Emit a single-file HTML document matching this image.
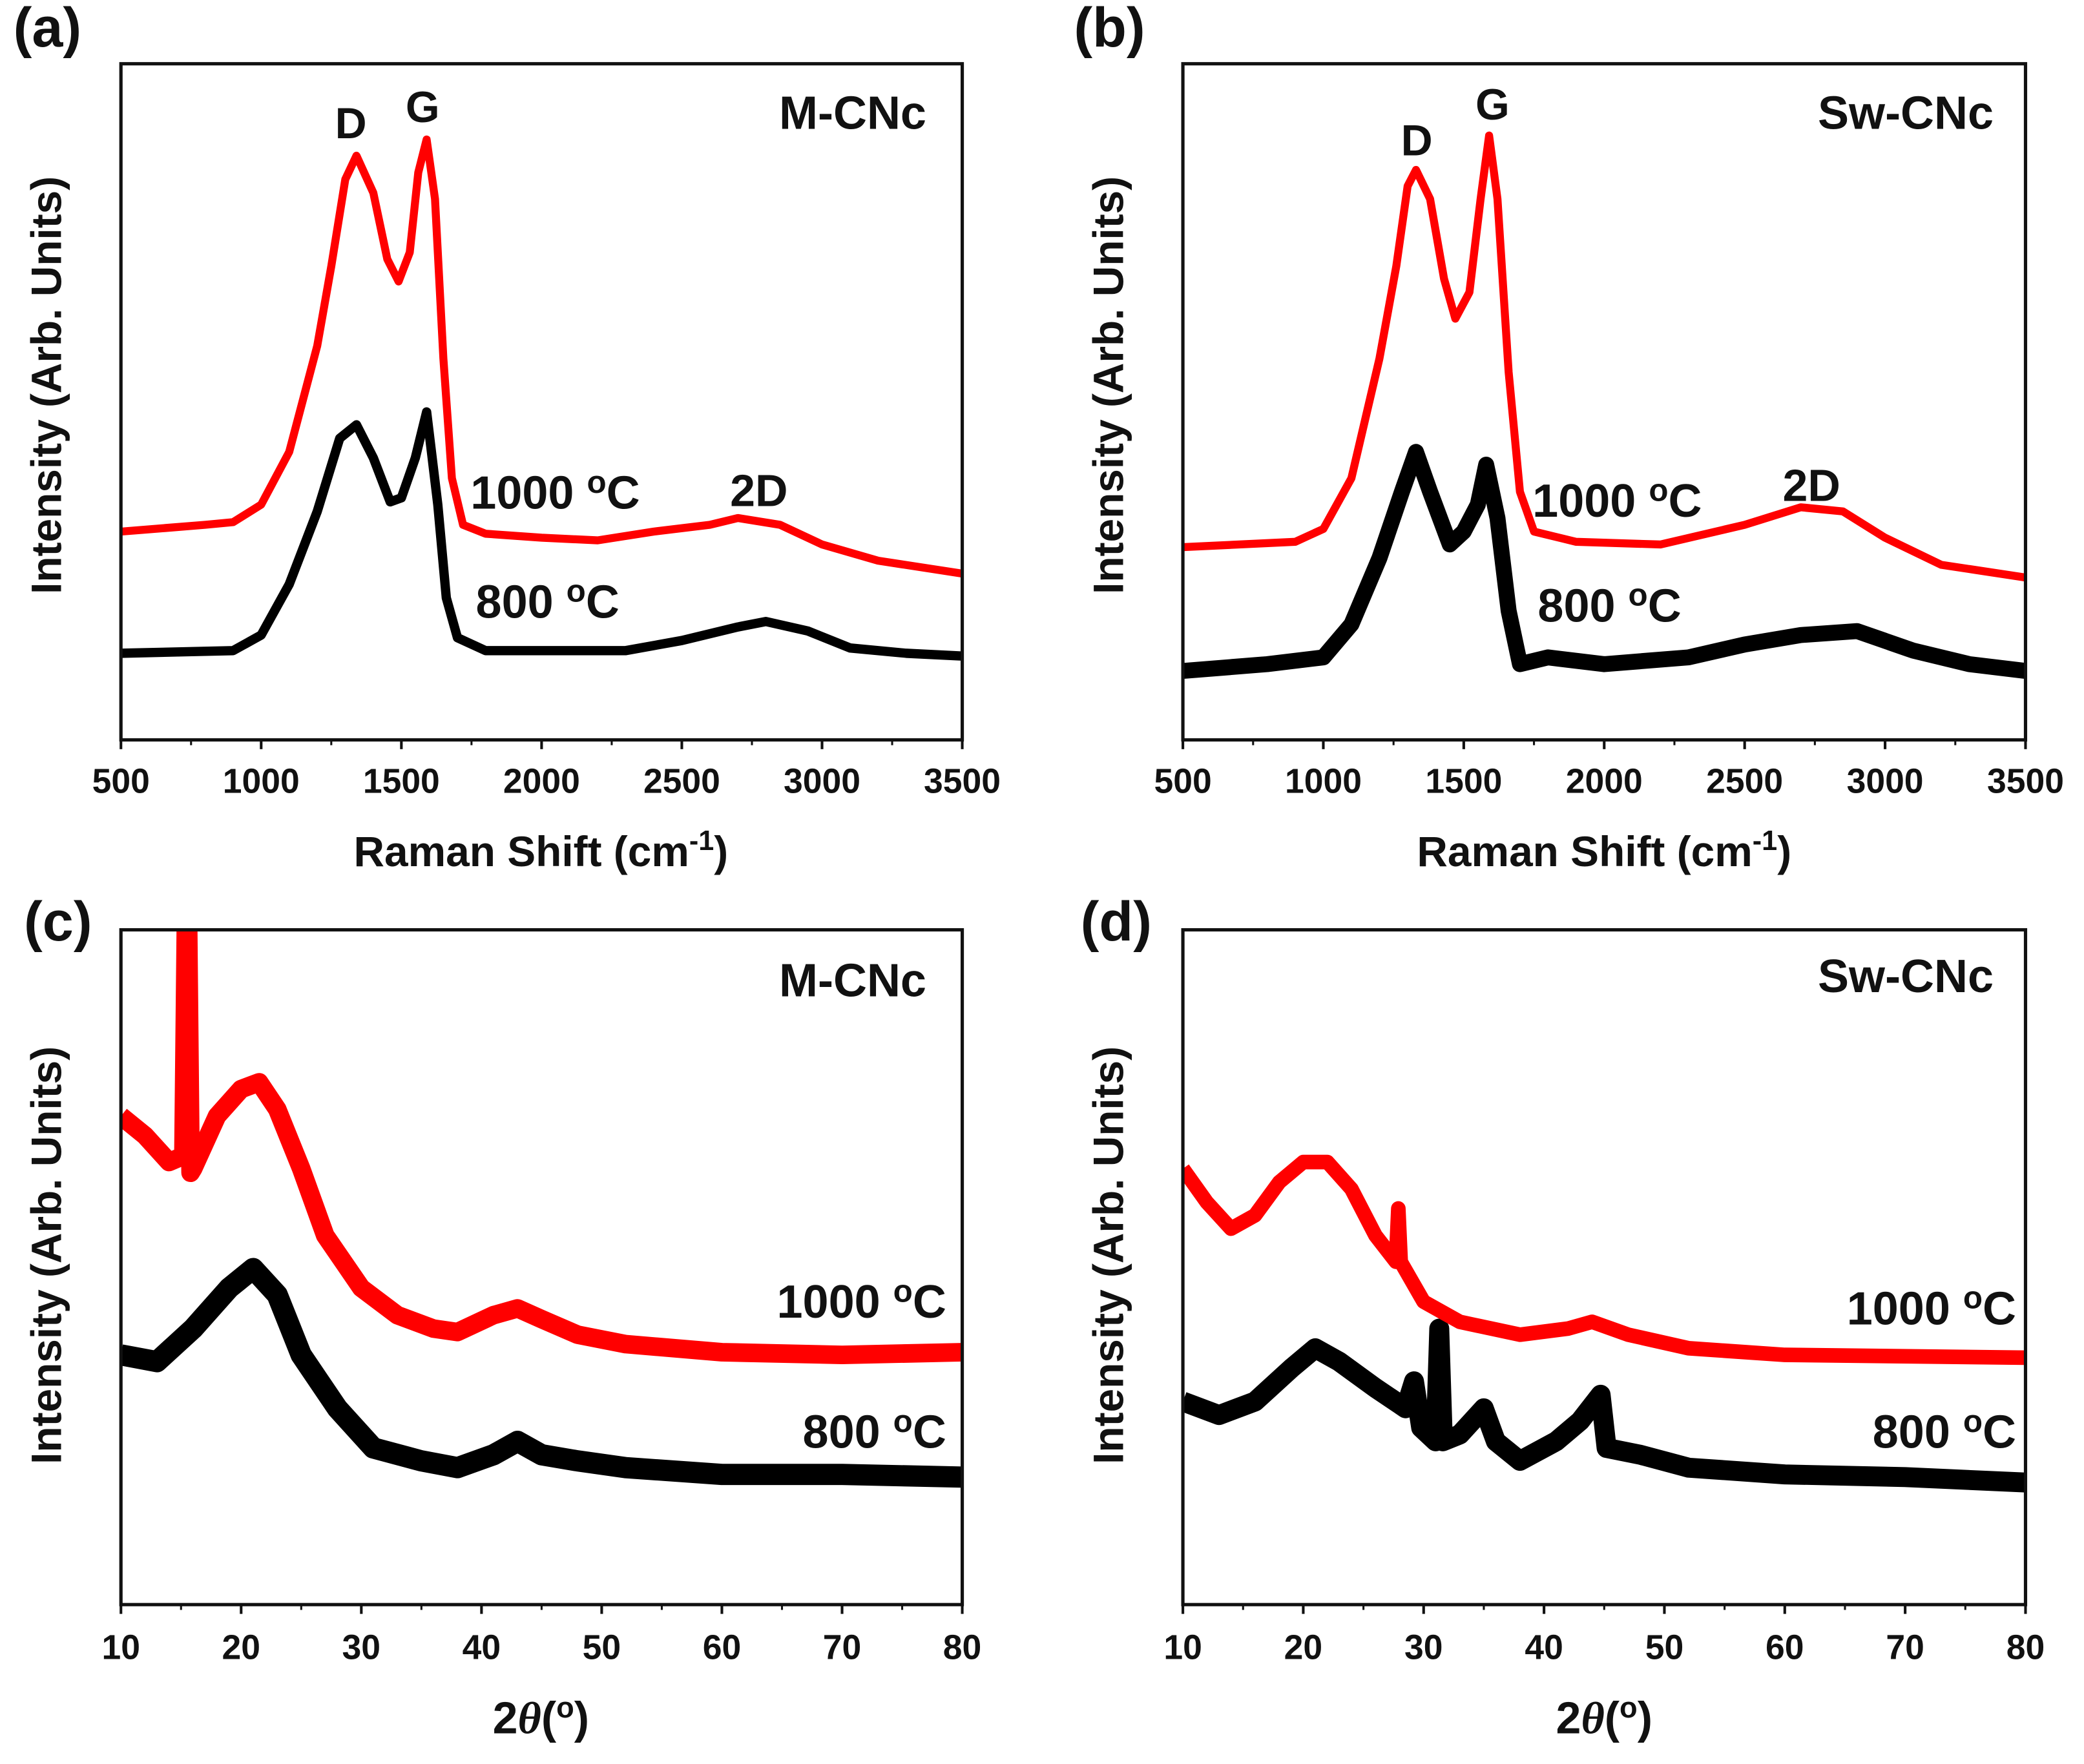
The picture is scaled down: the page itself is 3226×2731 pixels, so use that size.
<!DOCTYPE html>
<html><head><meta charset="utf-8"><style>
html,body{margin:0;padding:0;background:#fff}
svg{display:block}
text{font-family:"Liberation Sans",Arial,sans-serif;font-weight:bold;fill:#111}
</style></head><body>
<svg id="fig" width="3226" height="2731" viewBox="0 0 1568 1328" preserveAspectRatio="none" xmlns="http://www.w3.org/2000/svg"></svg>
<script>
// Raman (a) M-CNc
const ramanAX_red=[500,800,900,1000,1100,1200,1250,1300,1340,1400,1450,1490,1530,1560,1590,1620,1650,1680,1720,1800,2000,2200,2400,2600,2700,2850,3000,3200,3500];
const ramanAY_red=[30.8,31.8,32.2,34.8,42.6,58.3,70.1,82.9,86.4,80.9,71.1,67.8,72.1,83.9,88.8,80.0,56.4,38.7,31.8,30.5,29.9,29.5,30.8,31.8,32.8,31.8,28.9,26.5,24.6];
const ramanAX_blk=[500,900,1000,1100,1200,1280,1340,1400,1460,1500,1550,1590,1630,1660,1700,1800,2000,2300,2500,2700,2800,2950,3100,3300,3500];
const ramanAY_blk=[12.8,13.2,15.5,23.0,33.8,44.6,46.6,41.7,35.2,35.8,41.7,48.5,34.8,21.0,15.1,13.2,13.2,13.2,14.7,16.7,17.5,16.1,13.6,12.8,12.4];
// Raman (b) Sw-CNc
const ramanBX_red=[500,900,1000,1100,1200,1260,1300,1330,1380,1430,1470,1520,1560,1590,1620,1660,1700,1750,1900,2200,2500,2700,2850,3000,3200,3500];
const ramanBY_red=[28.5,29.3,31.2,38.7,56.4,70.1,81.9,84.3,80.0,68.2,62.3,66.2,80.0,89.4,80.0,54.4,36.7,30.8,29.3,28.9,31.8,34.4,33.8,29.9,25.9,24.0];
const ramanBX_blk=[500,800,1000,1100,1200,1280,1330,1380,1450,1500,1550,1580,1620,1660,1700,1800,2000,2300,2500,2700,2900,3100,3300,3500];
const ramanBY_blk=[10.2,11.2,12.2,17.1,26.9,36.7,42.6,36.7,28.9,30.8,34.8,40.7,32.8,19.1,11.2,12.2,11.2,12.2,14.1,15.5,16.1,13.2,11.2,10.2];
// XRD (c) M-CNc
const xrdCX_red=[10,12,14,15.2,15.4,15.5,15.6,15.8,16,18,20,21.5,23,25,27,30,33,36,38,41,43,45,48,52,60,70,80];
const xrdCY_red=[72.4,69.5,65.6,66.5,100,100,100,64.0,64.6,72.4,76.4,77.4,73.4,64.6,54.7,46.9,42.9,40.9,40.4,42.9,43.9,42.3,40.0,38.6,37.4,37.0,37.4];
const xrdCX_blk=[10,13,16,19,21,23,25,28,31,35,38,41,43,45,48,52,60,70,80];
const xrdCY_blk=[37.0,36.0,40.9,46.9,49.8,45.9,37.0,29.1,23.2,21.3,20.3,22.2,24.2,22.2,21.3,20.3,19.3,19.3,18.9];
// XRD (d) Sw-CNc
const xrdDX_red=[10,12,14,16,18,20,22,24,26,27.7,27.9,28.1,30,33,38,42,44,47,52,60,80];
const xrdDY_red=[64.6,59.6,55.7,57.7,62.6,65.6,65.6,61.6,54.7,50.8,58.7,50.8,44.9,41.9,40.0,40.9,41.9,40.0,38.0,37.0,36.6];
const xrdDX_blk=[10,13,16,19,21,23,26,28.5,29.2,29.8,31,31.3,31.6,33,35,36,38,41,43,44.7,45.2,48,52,60,70,80];
const xrdDY_blk=[30.1,28.1,30.1,35.0,38.0,36.0,32.1,29.1,33.1,26.2,24.2,40.9,24.2,25.2,29.1,24.2,21.3,24.2,27.2,31.1,23.2,22.2,20.3,19.3,18.9,18.1];
const ramanTicks=[500,1000,1500,2000,2500,3000,3500];
const xrdTicks=[10,20,30,40,50,60,70,80];

const NS="http://www.w3.org/2000/svg";
const svg=document.getElementById('fig');
function mk(tag,attrs,parent){const e=document.createElementNS(NS,tag);for(const k in attrs)e.setAttribute(k,attrs[k]);(parent||svg).appendChild(e);return e;}
function txt(s,x,y,size,anchor,parent){const t=mk('text',{x:x,y:y,'font-size':size,'text-anchor':anchor||'start'},parent);t.textContent=s;return t;}
function tempLabel(num,x,y,anchor,parent){
  const t=mk('text',{x:x,y:y,'font-size':35,'text-anchor':anchor},parent);
  t.appendChild(document.createTextNode(num+' '));
  const s=document.createElementNS(NS,'tspan');s.setAttribute('dy','-12');s.setAttribute('font-size','24');s.textContent='o';t.appendChild(s);
  const c=document.createElementNS(NS,'tspan');c.setAttribute('dy','12');c.textContent='C';t.appendChild(c);
  return t;
}
function panel(cfg){
  const g=mk('g',{});
  
  
  const L=cfg.L,R=cfg.R,T=cfg.T,B=cfg.B;
  const sx=v=>L+(v-cfg.xmin)/(cfg.xmax-cfg.xmin)*(R-L);
  const sy=v=>B-v/100*(B-T);
  const clipId='clip'+cfg.id;
  const cp=mk('clipPath',{id:clipId},g);mk('rect',{x:L,y:T,width:R-L,height:B-T},cp);
  cfg.series.forEach(s=>{
    let d='';s.x.forEach((xv,i)=>{d+=(i?'L':'M')+sx(xv).toFixed(1)+','+sy(s.y[i]).toFixed(1);});
    const p=mk('path',{d:d,fill:'none',stroke:s.color,'stroke-width':s.w,'stroke-linejoin':'round','clip-path':'url(#'+clipId+')'},g);
    
    
  });
  const fr=mk('rect',{x:L,y:T,width:R-L,height:B-T,fill:'none',stroke:'#111','stroke-width':2.5},g);
  
  
  cfg.ticks.forEach((tv,i)=>{
    const x=sx(tv);
    mk('line',{x1:x,y1:B,x2:x,y2:B+7,stroke:'#111','stroke-width':2},g);
    if(i<cfg.ticks.length-1){const xm=sx((tv+cfg.ticks[i+1])/2);mk('line',{x1:xm,y1:B,x2:xm,y2:B+4,stroke:'#111','stroke-width':1.5},g);}
    const t=txt(String(tv),x,cfg.tickY,26,'middle',g);
    
    
  });
  return {g,sx,sy};
}
function ytitle(cx,cy,parent){
  const t=mk('text',{x:0,y:0,'font-size':32,'text-anchor':'middle',transform:'translate('+cx+','+cy+') rotate(-90)'},parent);
  t.textContent='Intensity (Arb. Units)';
  
  
}
function ramanTitle(cx,parent){
  const t=mk('text',{x:cx,y:652,'font-size':32,'text-anchor':'middle'},parent);
  t.appendChild(document.createTextNode('Raman Shift (cm'));
  const s=document.createElementNS(NS,'tspan');s.setAttribute('dy','-12');s.setAttribute('font-size','21');s.textContent='-1';t.appendChild(s);
  const c=document.createElementNS(NS,'tspan');c.setAttribute('dy','12');c.textContent=')';t.appendChild(c);
  
  
}
function xrdTitle(cx,parent){
  const t=mk('text',{x:cx,y:1305,'font-size':34,'text-anchor':'middle'},parent);
  t.appendChild(document.createTextNode('2'));
  const th=document.createElementNS(NS,'tspan');th.setAttribute('font-style','italic');th.setAttribute('font-family','Liberation Serif, serif');th.textContent='θ';t.appendChild(th);
  t.appendChild(document.createTextNode('('));
  const s=document.createElementNS(NS,'tspan');s.setAttribute('dy','-12');s.setAttribute('font-size','22');s.textContent='o';t.appendChild(s);
  const c=document.createElementNS(NS,'tspan');c.setAttribute('dy','12');c.textContent=')';t.appendChild(c);
  
  
}
function lbl(s,x,y,size,anchor,name,parent){const t=txt(s,x,y,size,anchor,parent);return t;}

// Panel a
let p=panel({id:'a',name:'panel-a-raman-m-cnc',L:91,R:724,T:48,B:557,xmin:500,xmax:3500,ticks:ramanTicks,tickY:597,
 series:[{name:'series-800c',x:ramanAX_blk,y:ramanAY_blk,color:'#000',w:7},{name:'series-1000c',x:ramanAX_red,y:ramanAY_red,color:'#ff0000',w:6}]});
lbl('(a)',10,35,42,'start','panel-label-a',p.g);
lbl('D',264,104,33,'middle','peak-label-d',p.g);
lbl('G',318,92,33,'middle','peak-label-g',p.g);
lbl('M-CNc',697,97,35,'end','sample-label',p.g);
lbl('2D',571,381,34,'middle','peak-label-2d',p.g);
tempLabel('1000',354,383,'start',p.g);
tempLabel('800',358,465,'start',p.g);
ytitle(46,290,p.g);ramanTitle(407,p.g);

// Panel b
p=panel({id:'b',name:'panel-b-raman-sw-cnc',L:890,R:1524,T:48,B:557,xmin:500,xmax:3500,ticks:ramanTicks,tickY:597,
 series:[{name:'series-800c',x:ramanBX_blk,y:ramanBY_blk,color:'#000',w:12},{name:'series-1000c',x:ramanBX_red,y:ramanBY_red,color:'#ff0000',w:6}]});
lbl('(b)',808,35,42,'start','panel-label-b',p.g);
lbl('D',1066,117,33,'middle','peak-label-d',p.g);
lbl('G',1123,90,33,'middle','peak-label-g',p.g);
lbl('Sw-CNc',1500,97,35,'end','sample-label',p.g);
lbl('2D',1363,377,34,'middle','peak-label-2d',p.g);
tempLabel('1000',1153,389,'start',p.g);
tempLabel('800',1157,468,'start',p.g);
ytitle(845,290,p.g);ramanTitle(1207,p.g);

// Panel c
p=panel({id:'c',name:'panel-c-xrd-m-cnc',L:91,R:724,T:700,B:1208,xmin:10,xmax:80,ticks:xrdTicks,tickY:1249,
 series:[{name:'series-800c',x:xrdCX_blk,y:xrdCY_blk,color:'#000',w:16},{name:'series-1000c',x:xrdCX_red,y:xrdCY_red,color:'#ff0000',w:14}]});
lbl('(c)',18,708,42,'start','panel-label-c',p.g);
lbl('M-CNc',697,750,35,'end','sample-label',p.g);
tempLabel('1000',712,992,'end',p.g);
tempLabel('800',712,1090,'end',p.g);
ytitle(46,945,p.g);xrdTitle(407,p.g);

// Panel d
p=panel({id:'d',name:'panel-d-xrd-sw-cnc',L:890,R:1524,T:700,B:1208,xmin:10,xmax:80,ticks:xrdTicks,tickY:1249,
 series:[{name:'series-800c',x:xrdDX_blk,y:xrdDY_blk,color:'#000',w:15},{name:'series-1000c',x:xrdDX_red,y:xrdDY_red,color:'#ff0000',w:11}]});
lbl('(d)',813,708,42,'start','panel-label-d',p.g);
lbl('Sw-CNc',1500,747,35,'end','sample-label',p.g);
tempLabel('1000',1517,997,'end',p.g);
tempLabel('800',1517,1090,'end',p.g);
ytitle(845,945,p.g);xrdTitle(1207,p.g);
</script>
</body></html>
